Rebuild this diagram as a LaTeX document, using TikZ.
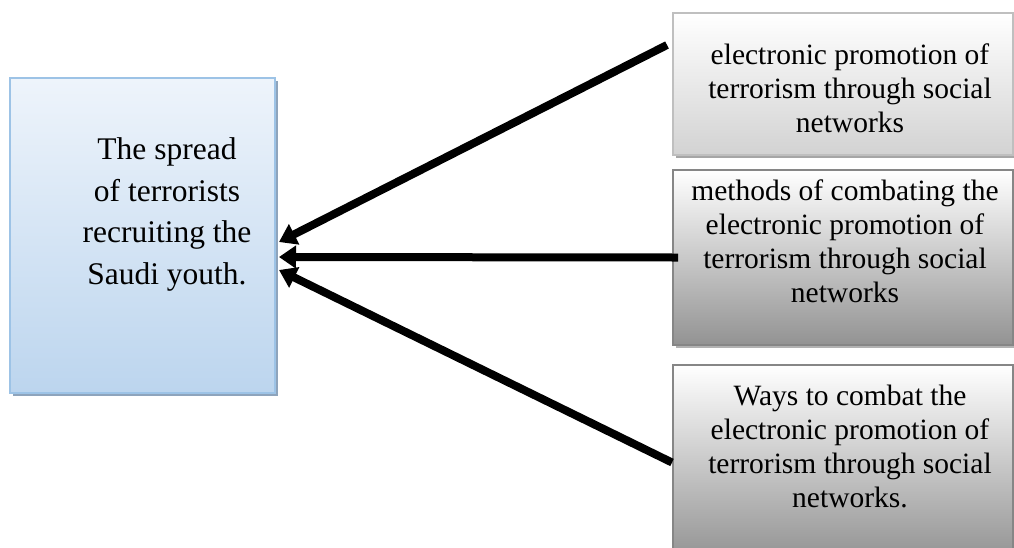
\documentclass[tikz,border=0pt]{standalone}
\usepackage{fontspec}
\setmainfont{Liberation Serif}
\usetikzlibrary{arrows.meta,shadows,calc}
\definecolor{bluebd}{HTML}{9DC3E6}
\definecolor{bluebot}{HTML}{BCD5EE}
\definecolor{bluetop}{HTML}{EEF4FB}
\definecolor{blueshad}{HTML}{8EA4BC}
\tikzset{
  box/.style={draw, line width=2pt, inner sep=0pt, minimum width=340pt},
  leftbox/.style={box, draw=bluebd, top color=bluetop, bottom color=bluebot,
     minimum width=265pt, minimum height=315pt,
     drop shadow={shadow xshift=3pt, shadow yshift=-3pt, fill=blueshad, opacity=1}},
  lightbox/.style={box, draw=gray!50, top color=white, bottom color=gray!35,
     drop shadow={shadow xshift=3pt, shadow yshift=-3pt, fill=gray!70, opacity=1}},
  darkbox/.style={box, draw=gray!95, top color=white, bottom color=gray!85,
     drop shadow={shadow xshift=3pt, shadow yshift=-3pt, fill=gray!60, opacity=1}},
  rtext/.style={align=center, inner sep=0pt, font=\fontsize{29.5}{34}\selectfont},
  ltext/.style={align=center, inner sep=0pt, font=\fontsize{31.5}{41.5}\selectfont},
  conn/.style={line width=8pt, -{Triangle[length=17pt, width=22pt]}}
}
\begin{document}
\begin{tikzpicture}[x=1pt, y=-1pt]
\clip (0,0) rectangle (1014,547);
\fill[white] (0,0) rectangle (1014,547);
\node[leftbox] (L) at (142.5,235.5) {};
\node[ltext] (Lt) at (167,214.5) {The spread\\of terrorists\\recruiting the\\Saudi youth.};
\node[lightbox, minimum height=142pt] (b1) at (843,84) {};
\node[rtext] (t1) at (850,88) {electronic promotion of\\terrorism through social\\networks};
\node[darkbox, minimum height=175pt] (b2) at (843,257.5) {};
\node[rtext] (t2) at (845,241) {methods of combating the\\electronic promotion of\\terrorism through social\\networks};
\node[darkbox, minimum height=195pt] (b3) at (843,462.5) {};
\node[rtext] (t3) at (850,446.5) {Ways to combat the\\electronic promotion of\\terrorism through social\\networks.};
\draw[conn] ($(b1.west)+(-5,-39)$) -- ($(L.east)+(3,6.5)$);
\draw[conn] ($(b2.west)+(6,0)$) -- ($(L.east)+(3,21.5)$);
\draw[conn] (b3.west) -- ($(L.east)+(3,34.5)$);
\end{tikzpicture}
\end{document}
